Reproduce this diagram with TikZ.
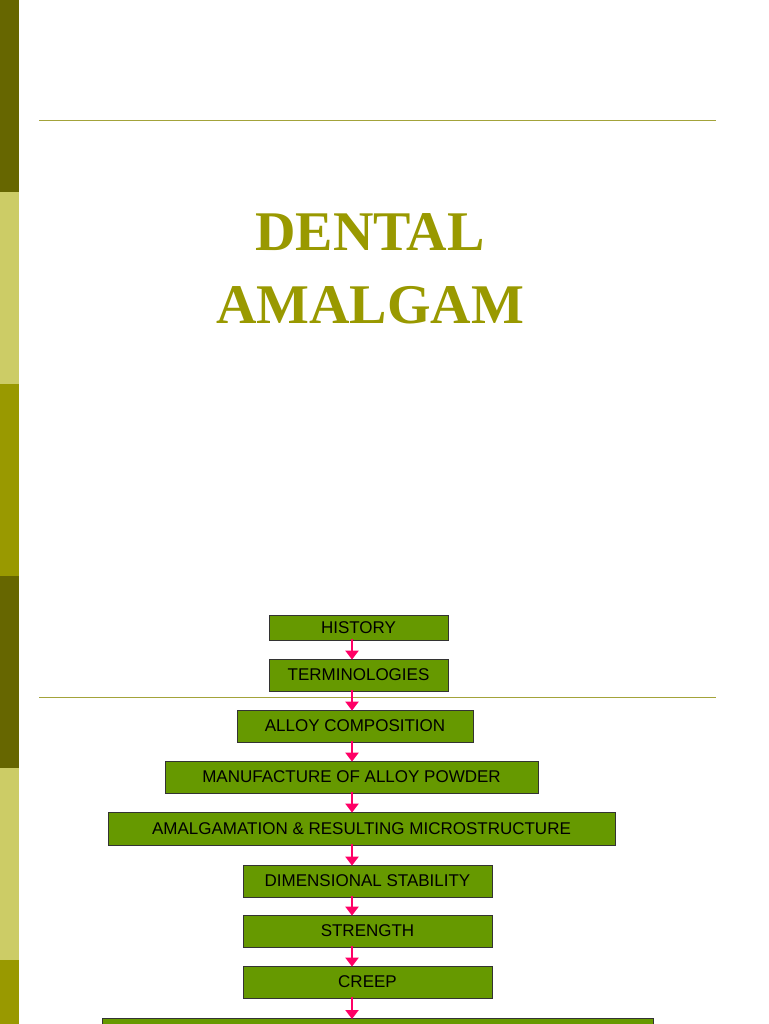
\documentclass[tikz,border=0pt]{standalone}
\usepackage{fontspec}
\setmainfont{Liberation Sans}
\newfontfamily\titlefont{Liberation Serif}
\usetikzlibrary{arrows.meta}
\definecolor{dko}{HTML}{666600}
\definecolor{lto}{HTML}{CCCC66}
\definecolor{mdo}{HTML}{999900}
\definecolor{boxg}{HTML}{669900}
\definecolor{pinkc}{HTML}{FF0066}
\definecolor{rulec}{HTML}{A3A33A}
\tikzset{
 flowbox/.style={draw=black!80,fill=boxg,line width=0.8pt,inner sep=0pt,font=\fontsize{17}{17}\selectfont},
 flowarrow/.style={pinkc,line width=2.5pt,-{Triangle[length=9pt,width=13pt]}, shorten <=-1pt, shorten >=-1pt}
}
\begin{document}
\begin{tikzpicture}[x=1pt,y=-1pt]
\useasboundingbox (0,0) rectangle (768,1024);
\clip (0,0) rectangle (768,1024);
\fill[dko] (0,0) rectangle (19,192);
\fill[lto] (0,192) rectangle (19,384);
\fill[mdo] (0,384) rectangle (19,576);
\fill[dko] (0,576) rectangle (19,768);
\fill[lto] (0,768) rectangle (19,960);
\fill[mdo] (0,960) rectangle (19,1024);
\draw[rulec,line width=1pt] (39,121) -- (716,121);
\draw[rulec,line width=1pt] (39,697) -- (716,697);
\node[mdo,font=\titlefont\bfseries\fontsize{56}{56}\selectfont] (t1) at (370,232) {DENTAL};
\node[mdo,font=\titlefont\bfseries\fontsize{56}{56}\selectfont] (t2) at (370,305) {AMALGAM};
\coordinate (ax) at (352,0);
\node[flowbox,minimum width=179,minimum height=25] (b1) at (358.5,627.5) {HISTORY};
\node[flowbox,minimum width=179,minimum height=32] (b2) at (358.5,675) {TERMINOLOGIES};
\node[flowbox,minimum width=236,minimum height=32] (b3) at (355,726) {ALLOY COMPOSITION};
\node[flowbox,minimum width=373,minimum height=32] (b4) at (351.5,777) {MANUFACTURE OF ALLOY POWDER};
\node[flowbox,minimum width=507,minimum height=33] (b5) at (361.5,828.5) {AMALGAMATION \& RESULTING MICROSTRUCTURE};
\node[flowbox,minimum width=249,minimum height=32] (b6) at (367.5,881) {DIMENSIONAL STABILITY};
\node[flowbox,minimum width=249,minimum height=32] (b7) at (367.5,931) {STRENGTH};
\node[flowbox,minimum width=249,minimum height=32] (b8) at (367.5,982) {CREEP};
\node[flowbox,minimum width=551,minimum height=32,anchor=north west] (b9) at (102,1018) {};
\foreach \a/\b in {b1/b2,b2/b3,b3/b4,b4/b5,b5/b6,b6/b7,b7/b8,b8/b9}{
  \draw[flowarrow] (\a.south -| ax) -- (\b.north -| ax);
}
\end{tikzpicture}
\end{document}
